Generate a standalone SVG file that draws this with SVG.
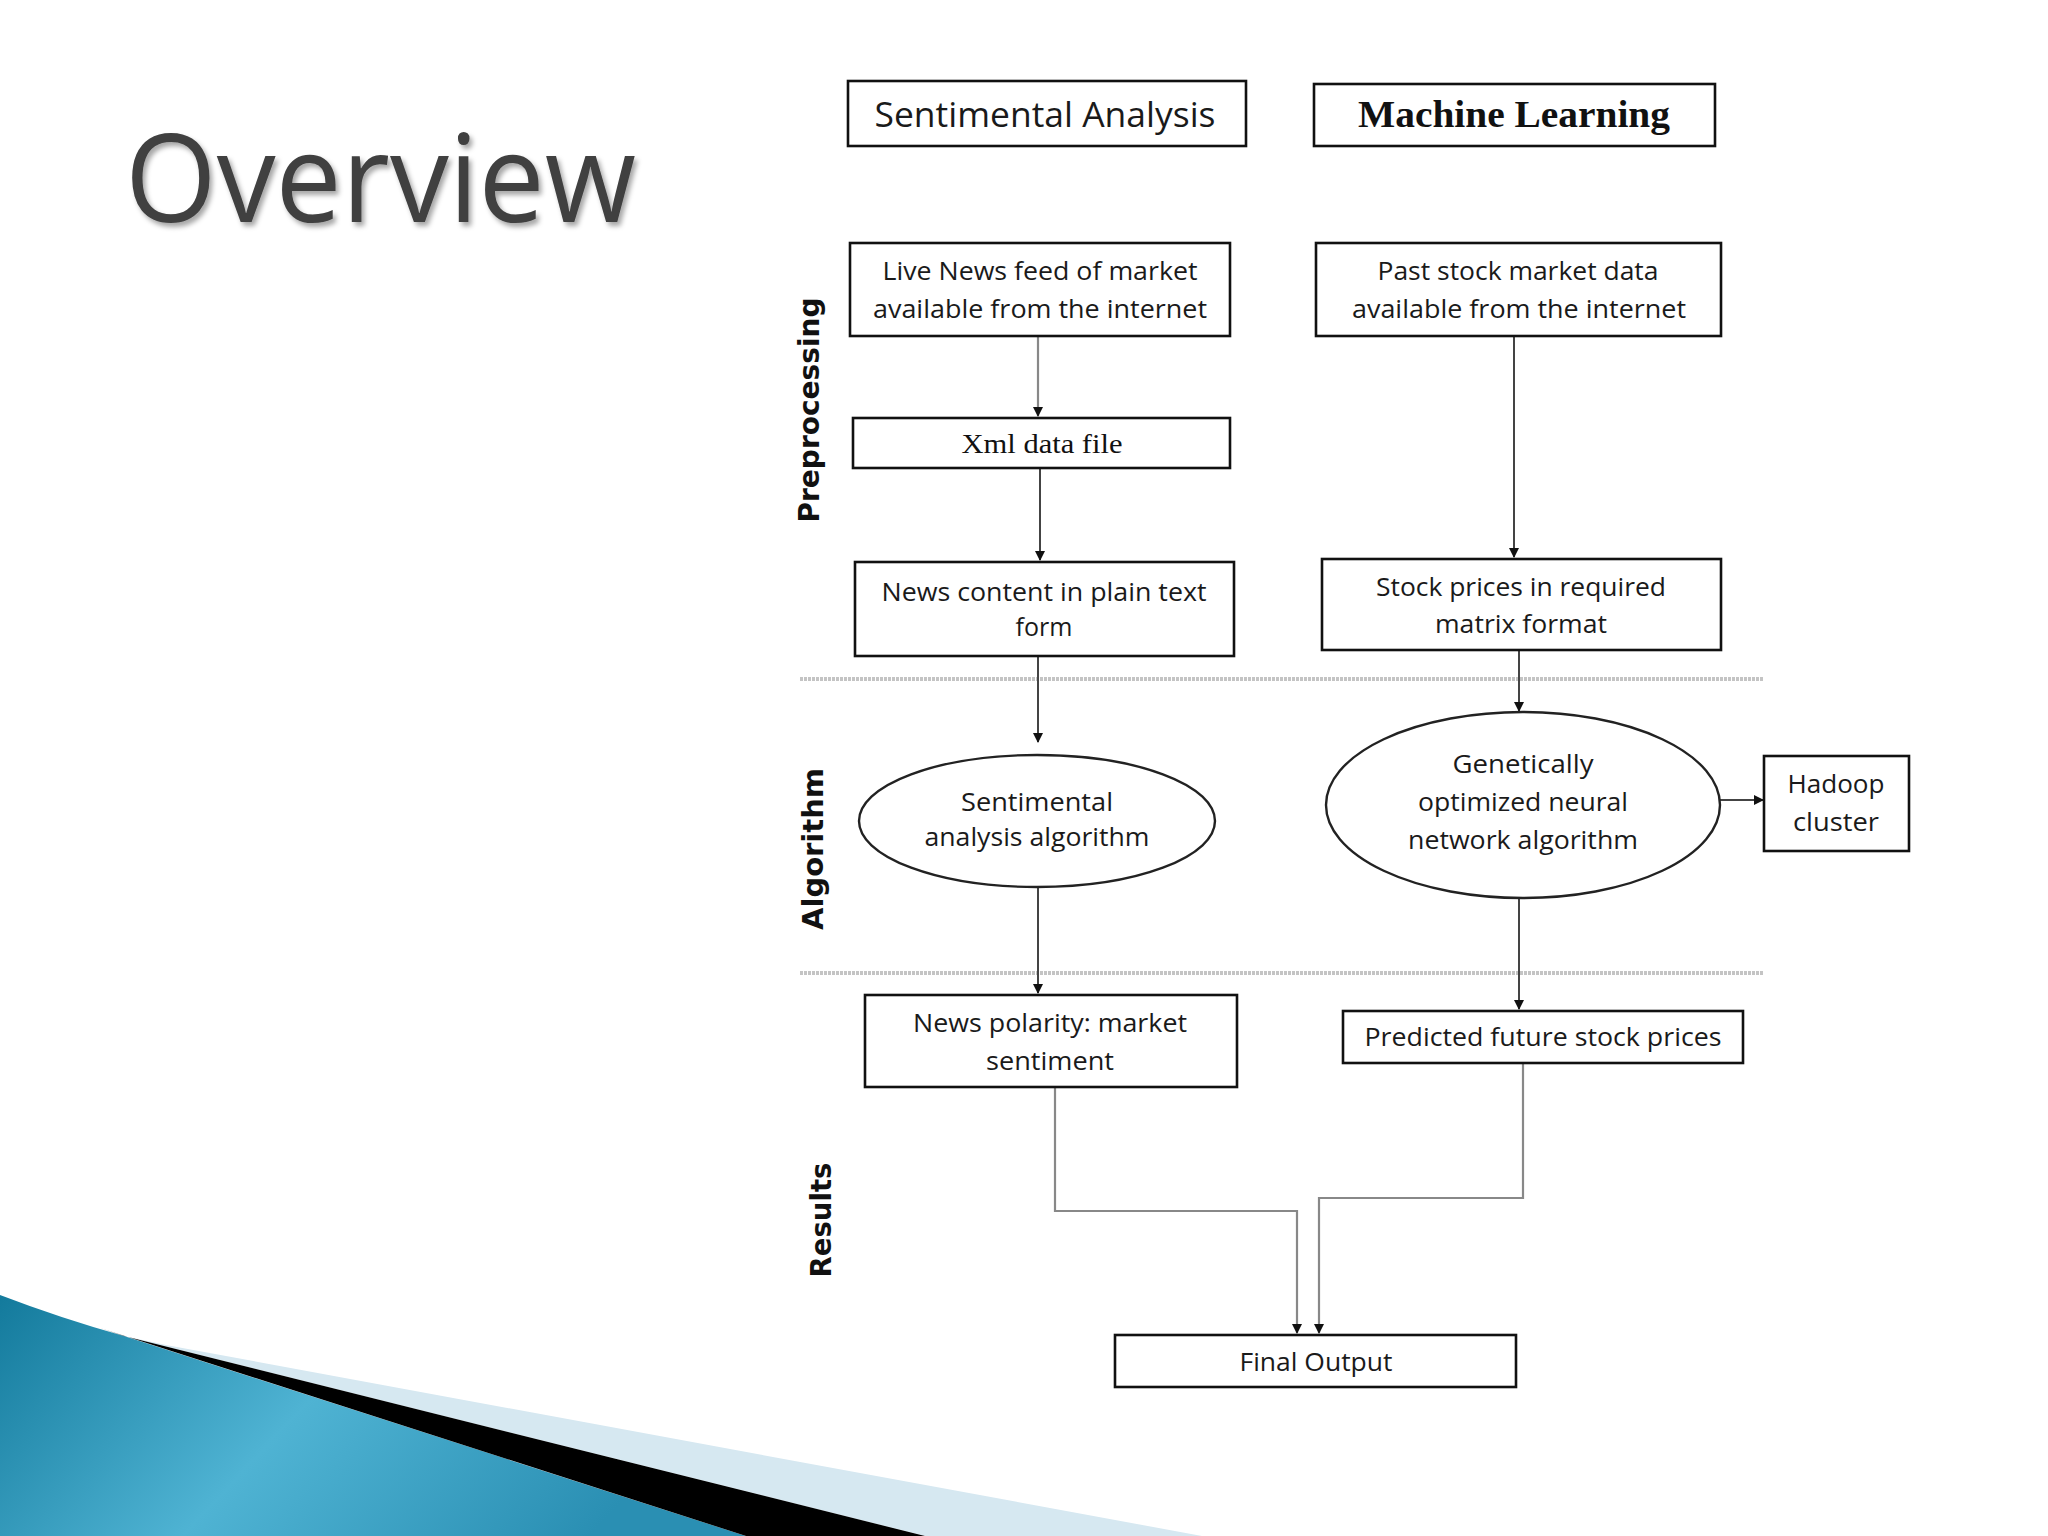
<svg xmlns="http://www.w3.org/2000/svg" width="2048" height="1536" viewBox="0 0 2048 1536">
<defs>
<style>
.box{fill:#fff;stroke:#111;stroke-width:2.6}
.ell{fill:#fff;stroke:#222;stroke-width:2.4}
.t{font-family:"Open Sans","Noto Sans",sans-serif;font-size:25px;fill:#1a1a1a;text-anchor:middle}
.big{font-size:35px}
.serif{font-family:"Liberation Serif","Times New Roman",serif;fill:#111;text-anchor:middle}
.side{font-family:"DejaVu Sans",Verdana,sans-serif;font-weight:bold;font-size:28px;fill:#111;text-anchor:middle}
.c{fill:none;stroke:#444;stroke-width:2}
.cg{fill:none;stroke:#888;stroke-width:2.2}
.sep{stroke:#c4c4c4;stroke-width:4;stroke-dasharray:3 1}
</style>
<marker id="ah" viewBox="0 0 10 10" refX="9" refY="5" markerWidth="10" markerHeight="10" markerUnits="userSpaceOnUse" orient="auto">
<path d="M0,0 L10,5 L0,10 Z" fill="#111"/>
</marker>
<linearGradient id="blue" x1="0" y1="0" x2="1" y2="0.3">
<stop offset="0" stop-color="#137a9c"/>
<stop offset="0.5" stop-color="#4fb3d3"/>
<stop offset="1" stop-color="#2a8fb3"/>
</linearGradient>
<filter id="sh" x="-5%" y="-5%" width="110%" height="120%">
<feDropShadow dx="3" dy="4" stdDeviation="2.5" flood-color="#000" flood-opacity="0.35"/>
</filter>
</defs>
<rect width="2048" height="1536" fill="#fff"/>

<g id="decoration">
<path d="M0,1295 Q60,1318 124,1336 L746,1536 L0,1536 Z" fill="url(#blue)"/>
<path d="M124,1336 L166,1345 L1202,1536 L925,1536 Z" fill="#d6e8f1"/>
<path d="M100,1328 L124,1336 L925,1536 L746,1536 Z" fill="#000"/>
</g>

<g id="title">
<text x="125" y="222" font-family="'Open Sans','Noto Sans',sans-serif" font-size="122" fill="#404040" textLength="511" lengthAdjust="spacingAndGlyphs" filter="url(#sh)">Overview</text>
</g>

<g id="side-labels">
<text class="side" transform="translate(819,410) rotate(-90)" textLength="225" lengthAdjust="spacingAndGlyphs">Preprocessing</text>
<text class="side" transform="translate(823,849) rotate(-90)" textLength="162" lengthAdjust="spacingAndGlyphs">Algorithm</text>
<text class="side" transform="translate(831,1220) rotate(-90)" textLength="115" lengthAdjust="spacingAndGlyphs">Results</text>
</g>

<g id="separators">
<line class="sep" x1="800" y1="679" x2="1763" y2="679"/>
<line class="sep" x1="800" y1="973" x2="1763" y2="973"/>
</g>

<g id="connectors">
<line class="cg" x1="1038" y1="336" x2="1038" y2="416" marker-end="url(#ah)"/>
<line class="c" x1="1040" y1="468" x2="1040" y2="560" marker-end="url(#ah)" stroke="#111"/>
<line class="c" x1="1514" y1="336" x2="1514" y2="557" marker-end="url(#ah)" stroke="#111"/>
<line class="c" x1="1038" y1="656" x2="1038" y2="742" marker-end="url(#ah)"/>
<line class="c" x1="1519" y1="650" x2="1519" y2="711" marker-end="url(#ah)"/>
<line class="c" x1="1720" y1="800" x2="1763" y2="800" marker-end="url(#ah)"/>
<line class="c" x1="1038" y1="887" x2="1038" y2="993" marker-end="url(#ah)"/>
<line class="c" x1="1519" y1="897" x2="1519" y2="1009" marker-end="url(#ah)"/>
<polyline class="cg" points="1055,1087 1055,1211 1297,1211 1297,1333" marker-end="url(#ah)"/>
<polyline class="cg" points="1523,1063 1523,1198 1319,1198 1319,1333" marker-end="url(#ah)"/>
</g>

<g id="sentimental-analysis">
<rect class="box" x="848" y="81" width="398" height="65"/>
<text class="t big" x="1045" y="127" textLength="341" lengthAdjust="spacingAndGlyphs">Sentimental Analysis</text>
</g>

<g id="machine-learning">
<rect class="box" x="1314" y="84" width="401" height="62"/>
<text class="serif" x="1514" y="127" font-size="38" font-weight="bold" textLength="312" lengthAdjust="spacingAndGlyphs">Machine Learning</text>
</g>

<g id="live-news">
<rect class="box" x="850" y="243" width="380" height="93"/>
<text class="t" x="1040" y="280" textLength="315" lengthAdjust="spacingAndGlyphs">Live News feed of market</text>
<text class="t" x="1040" y="318" textLength="334" lengthAdjust="spacingAndGlyphs">available from the internet</text>
</g>

<g id="past-stock">
<rect class="box" x="1316" y="243" width="405" height="93"/>
<text class="t" x="1518" y="280" textLength="281" lengthAdjust="spacingAndGlyphs">Past stock market data</text>
<text class="t" x="1519" y="318" textLength="334" lengthAdjust="spacingAndGlyphs">available from the internet</text>
</g>

<g id="xml-data-file">
<rect class="box" x="853" y="418" width="377" height="50"/>
<text class="serif" x="1042" y="453" font-size="28" textLength="161" lengthAdjust="spacingAndGlyphs">Xml data file</text>
</g>

<g id="news-content">
<rect class="box" x="855" y="562" width="379" height="94"/>
<text class="t" x="1044" y="601" textLength="325" lengthAdjust="spacingAndGlyphs">News content in plain text</text>
<text class="t" x="1044" y="636">form</text>
</g>

<g id="stock-prices">
<rect class="box" x="1322" y="559" width="399" height="91"/>
<text class="t" x="1521" y="596" textLength="290" lengthAdjust="spacingAndGlyphs">Stock prices in required</text>
<text class="t" x="1521" y="633" textLength="172" lengthAdjust="spacingAndGlyphs">matrix format</text>
</g>

<g id="sentimental-algorithm">
<ellipse class="ell" cx="1037" cy="821" rx="178" ry="66"/>
<text class="t" x="1037" y="811" textLength="152" lengthAdjust="spacingAndGlyphs">Sentimental</text>
<text class="t" x="1037" y="846" textLength="225" lengthAdjust="spacingAndGlyphs">analysis algorithm</text>
</g>

<g id="neural-network">
<ellipse class="ell" cx="1523" cy="805" rx="197" ry="93"/>
<text class="t" x="1523" y="773" textLength="141" lengthAdjust="spacingAndGlyphs">Genetically</text>
<text class="t" x="1523" y="811" textLength="210" lengthAdjust="spacingAndGlyphs">optimized neural</text>
<text class="t" x="1523" y="849" textLength="230" lengthAdjust="spacingAndGlyphs">network algorithm</text>
</g>

<g id="hadoop">
<rect class="box" x="1764" y="756" width="145" height="95"/>
<text class="t" x="1836" y="793" textLength="97" lengthAdjust="spacingAndGlyphs">Hadoop</text>
<text class="t" x="1836" y="831" textLength="86" lengthAdjust="spacingAndGlyphs">cluster</text>
</g>

<g id="news-polarity">
<rect class="box" x="865" y="995" width="372" height="92"/>
<text class="t" x="1050" y="1032" textLength="274" lengthAdjust="spacingAndGlyphs">News polarity: market</text>
<text class="t" x="1050" y="1070" textLength="128" lengthAdjust="spacingAndGlyphs">sentiment</text>
</g>

<g id="predicted">
<rect class="box" x="1343" y="1011" width="400" height="52"/>
<text class="t" x="1543" y="1046" textLength="357" lengthAdjust="spacingAndGlyphs">Predicted future stock prices</text>
</g>

<g id="final-output">
<rect class="box" x="1115" y="1335" width="401" height="52"/>
<text class="t" x="1316" y="1371" textLength="153" lengthAdjust="spacingAndGlyphs">Final Output</text>
</g>
</svg>
